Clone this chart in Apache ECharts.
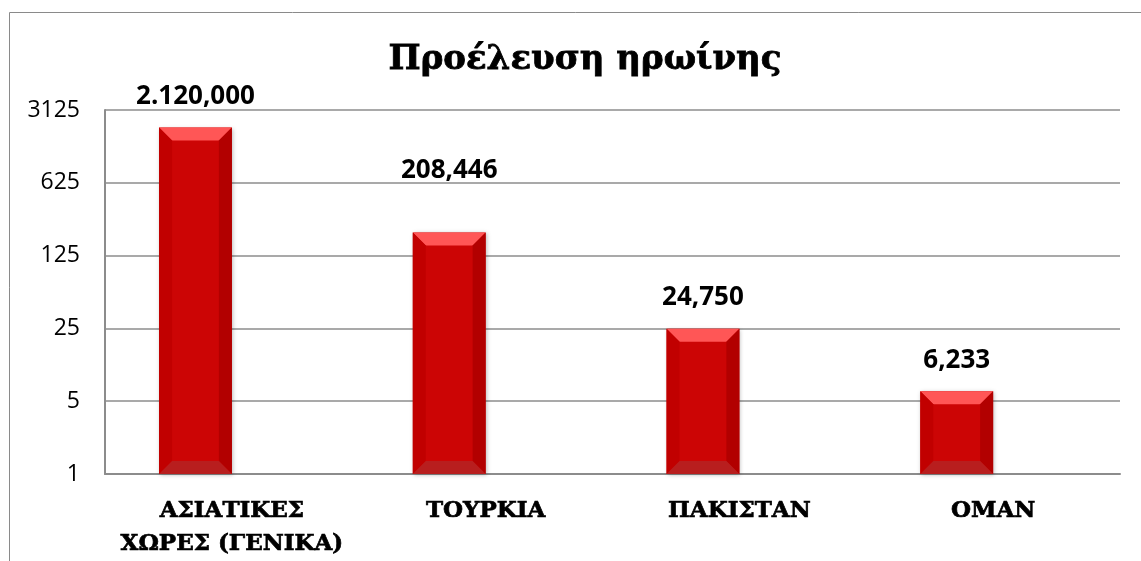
<!DOCTYPE html>
<html>
<head>
<meta charset="utf-8">
<script src="https://cdn.jsdelivr.net/npm/echarts@6/dist/echarts.min.js"></script>
<style>
  html, body { margin: 0; padding: 0; background: #fff; }
  #main { width: 1141px; height: 561px; }
</style>
</head>
<body>
<div id="main"></div>
<script>
var titleText = 'Προέλευση ηρωίνης';
var categories = ['ΑΣΙΑΤΙΚΕΣ\nΧΩΡΕΣ (ΓΕΝΙΚΑ)', 'ΤΟΥΡΚΙΑ', 'ΠΑΚΙΣΤΑΝ', 'ΟΜΑΝ'];
var values = [2120, 208.446, 24.75, 6.233];
var valueLabels = ['2.120,000', '208,446', '24,750', '6,233'];
var yTicks = [1, 5, 25, 125, 625, 3125];

var chart = echarts.init(document.getElementById('main'));

// bevelled bar, sits in the left half of the category (empty 2nd series in original)
function renderBar(params, api) {
  var idx = api.value(0);
  var val = api.value(1);
  var top = api.coord([idx, val]);
  var base = api.coord([idx, 1]);
  var band = api.size([1, 0], [idx, val])[0];
  var w = band * 0.287;
  var x1 = top[0] - w, x2 = top[0];
  var y1 = top[1], y2 = base[1];
  var b = Math.min(13, w / 2, (y2 - y1) / 2);
  var labelGap = idx === 1 ? 62 : 31;
  return {
    type: 'group',
    children: [
      { type: 'rect', shape: { x: x1, y: y1, width: w, height: y2 - y1 },
        style: { fill: '#cc0505', shadowBlur: 4, shadowColor: 'rgba(0,0,0,0.25)', shadowOffsetX: 1, shadowOffsetY: 1 } },
      { type: 'polygon', shape: { points: [[x1, y1], [x2, y1], [x2 - b, y1 + b], [x1 + b, y1 + b]] },
        style: { fill: '#ff5656' } },
      { type: 'polygon', shape: { points: [[x1, y1], [x1 + b, y1 + b], [x1 + b, y2 - b], [x1, y2]] },
        style: { fill: '#c10000' } },
      { type: 'polygon', shape: { points: [[x2, y1], [x2, y2], [x2 - b, y2 - b], [x2 - b, y1 + b]] },
        style: { fill: '#b20000' } },
      { type: 'polygon', shape: { points: [[x1, y2], [x1 + b, y2 - b], [x2 - b, y2 - b], [x2, y2]] },
        style: { fill: '#b81e1e' } },
      { type: 'text', x: (x1 + x2) / 2, y: y1 - labelGap,
        style: { text: valueLabels[idx], align: 'center', verticalAlign: 'middle',
          font: 'bold 26px "Open Sans", sans-serif', fill: '#000' } }
    ]
  };
}

var option = {
  backgroundColor: '#fff',
  animation: false,
  title: {
    text: titleText,
    left: 580,
    textAlign: 'center',
    top: 38,
    textStyle: {
      fontFamily: 'DejaVu Serif',
      fontWeight: 'bold',
      fontSize: 34,
      color: '#000',
      textBorderColor: '#000',
      textBorderWidth: 0.8
    }
  },
  graphic: [
    {
      type: 'rect',
      shape: { x: 9.5, y: 12.5, width: 1300, height: 700 },
      style: { fill: 'none', stroke: '#8a8a8a', lineWidth: 1 },
      silent: true
    }
  ],
  grid: {
    left: 105,
    right: 21,
    top: 110,
    bottom: 87,
    outerBoundsMode: 'none'
  },
  xAxis: {
    type: 'category',
    data: categories,
    axisTick: { show: false },
    axisLine: { show: true, lineStyle: { color: '#8c8c8c', width: 2 } },
    axisLabel: {
      interval: 0,
      margin: 21,
      fontFamily: 'DejaVu Serif',
      fontWeight: 'bold',
      fontSize: 23,
      lineHeight: 33,
      color: '#000',
      textBorderColor: '#000',
      textBorderWidth: 0.7
    }
  },
  yAxis: {
    type: 'log',
    logBase: 5,
    min: yTicks[0],
    max: yTicks[yTicks.length - 1],
    axisTick: { show: false },
    axisLine: { show: true, lineStyle: { color: '#8c8c8c', width: 2 } },
    splitLine: { show: true, lineStyle: { color: '#8c8c8c', width: 1.5 } },
    axisLabel: {
      margin: 25,
      fontFamily: 'Open Sans',
      fontSize: 23,
      color: '#000',
      formatter: function (v) {
        return String(Math.round(v));
      }
    }
  },
  series: [
    {
      type: 'custom',
      renderItem: renderBar,
      clip: false,
      encode: { x: 0, y: 1 },
      data: values.map(function (v, i) { return [i, v]; })
    }
  ]
};

chart.setOption(option);
</script>
</body>
</html>
